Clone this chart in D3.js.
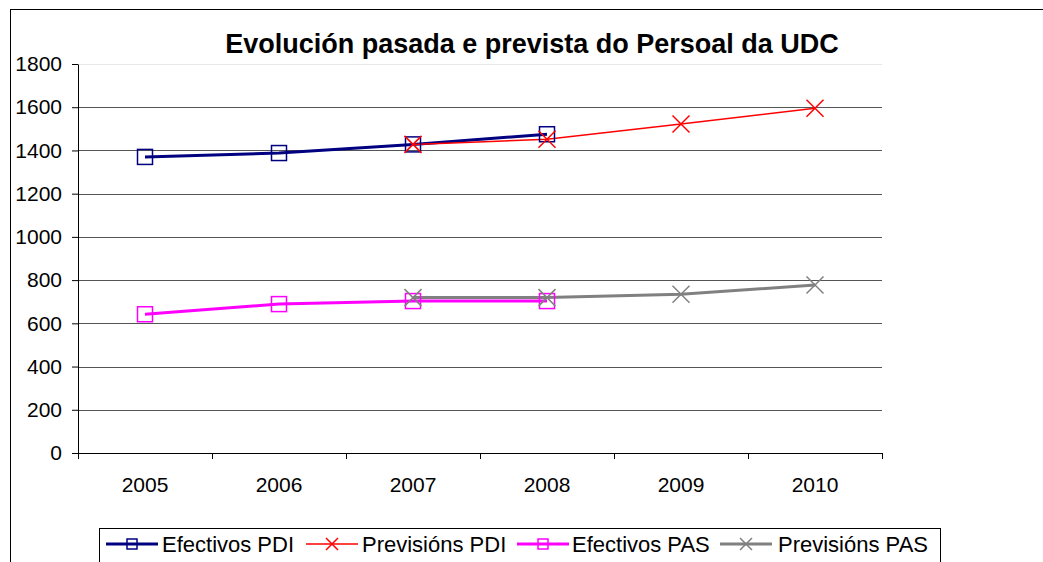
<!DOCTYPE html>
<html>
<head>
<meta charset="utf-8">
<script src="https://cdn.jsdelivr.net/npm/d3@7"></script>
<style>
  body { margin: 0; background: #fff; }
  svg { font-family: "Liberation Sans", Arial, sans-serif; display: block; }
</style>
</head>
<body>
<div id="chart"></div>
<script>
// data
var years = ["2005", "2006", "2007", "2008", "2009", "2010"];
var efectivosPDI = [1370, 1388, 1428, 1475, null, null];
var previsionsPDI = [null, null, 1428, 1452, 1522, 1595];
var efectivosPAS = [642, 689, 703, 703, null, null];
var previsionsPAS = [null, null, 719, 719, 735, 777];
var yTicks = [0, 200, 400, 600, 800, 1000, 1200, 1400, 1600, 1800];

var series = [
  {name: "Efectivos PDI", values: efectivosPDI, color: "#000080", width: 3, marker: "square"},
  {name: "Previsións PDI", values: previsionsPDI, color: "#ff0000", width: 1.5, marker: "x"},
  {name: "Efectivos PAS", values: efectivosPAS, color: "#ff00ff", width: 3, marker: "square"},
  {name: "Previsións PAS", values: previsionsPAS, color: "#808080", width: 3, marker: "x"}
];

var W = 1043, H = 562;
var margin = {top: 64, right: 161, bottom: 109, left: 78},
    width = W - margin.left - margin.right,
    height = H - margin.top - margin.bottom;

var svg = d3.select("#chart").append("svg")
    .attr("width", W).attr("height", H);

// outer chart frame (runs off the page on right / bottom)
svg.append("rect")
    .attr("x", 10.5).attr("y", 9.5)
    .attr("width", 1100).attr("height", 600)
    .attr("fill", "none").attr("stroke", "#000").attr("stroke-width", 1);

svg.append("text")
    .attr("x", 532).attr("y", 53)
    .attr("text-anchor", "middle")
    .style("font-size", "27px").style("font-weight", "bold")
    .text("Evolución pasada e prevista do Persoal da UDC");

var g = svg.append("g")
    .attr("transform", "translate(" + margin.left + "," + margin.top + ")");

var x = d3.scaleBand().domain(years).range([0, width]);
var y = d3.scaleLinear().domain([0, 1800]).range([height, 0]);

// gridlines
g.append("g").selectAll("line").data(yTicks).join("line")
    .attr("x1", 0).attr("x2", width)
    .attr("y1", function(d) { return Math.round(y(d)) + 0.5; })
    .attr("y2", function(d) { return Math.round(y(d)) + 0.5; })
    .attr("stroke", function(d) { return d == 1800 ? "#e8e8e8" : "#555"; })
    .attr("stroke-width", 1);

// Y axis
var yAxis = g.append("g")
    .call(d3.axisLeft(y).tickValues(yTicks).tickFormat(d3.format("d"))
      .tickSize(6).tickSizeOuter(0).tickPadding(10));
yAxis.select(".domain").attr("stroke", "#000");
yAxis.selectAll("text").style("font-size", "21px").attr("fill", "#000")
    .attr("font-family", "Liberation Sans, Arial, sans-serif");

// X axis, ticks on category boundaries
var xAxis = g.append("g").attr("transform", "translate(0," + height + ")");
xAxis.append("line").attr("x1", 0).attr("x2", width).attr("y1", 0.5).attr("y2", 0.5).attr("stroke", "#000");
var bounds = d3.range(years.length + 1).map(function(i) { return i * x.step(); });
xAxis.selectAll(".tk").data(bounds).join("line")
    .attr("x1", function(d) { return Math.round(d) + 0.5; })
    .attr("x2", function(d) { return Math.round(d) + 0.5; })
    .attr("y1", 0).attr("y2", 6).attr("stroke", "#000");
xAxis.selectAll(".lb").data(years).join("text")
    .attr("x", function(d) { return x(d) + x.bandwidth() / 2; })
    .attr("y", 39)
    .attr("text-anchor", "middle")
    .style("font-size", "21px")
    .text(function(d) { return d; });

var line = d3.line()
    .defined(function(d) { return d != null; })
    .x(function(d, i) { return x(years[i]) + x.bandwidth() / 2; })
    .y(function(d) { return y(d); });

function drawMarker(sel, type, color, cx, cy, s) {
  if (type == "square") {
    sel.append("rect").attr("x", cx - s / 2).attr("y", cy - s / 2)
      .attr("width", s).attr("height", s)
      .attr("fill", "none").attr("stroke", color).attr("stroke-width", 1.5);
  } else {
    var h = s / 2;
    sel.append("path")
      .attr("d", "M" + (cx - h) + "," + (cy - h) + "L" + (cx + h) + "," + (cy + h) +
                 "M" + (cx - h) + "," + (cy + h) + "L" + (cx + h) + "," + (cy - h))
      .attr("stroke", color).attr("stroke-width", 1.5).attr("fill", "none");
  }
}

series.forEach(function(s) {
  g.append("path").datum(s.values)
    .attr("fill", "none").attr("stroke", s.color)
    .attr("stroke-width", s.width).attr("d", line);
});
series.forEach(function(s) {
  var mg = g.append("g");
  s.values.forEach(function(v, i) {
    if (v == null) return;
    drawMarker(mg, s.marker, s.color, x(years[i]) + x.bandwidth() / 2, y(v), s.marker == "square" ? 15 : 17);
  });
});

// legend
var leg = svg.append("g");
leg.append("rect").attr("x", 99.5).attr("y", 528.5).attr("width", 841).attr("height", 40)
    .attr("fill", "#fff").attr("stroke", "#000");
var legLineX = [106, 306, 517, 720];
var legTextX = [162, 362, 572, 778];
series.forEach(function(s, i) {
  var lx = legLineX[i], ly = 544;
  leg.append("line").attr("x1", lx).attr("x2", lx + 52).attr("y1", ly).attr("y2", ly)
    .attr("stroke", s.color).attr("stroke-width", s.width);
  drawMarker(leg, s.marker, s.color, lx + 26, ly, s.marker == "square" ? 10 : 12);
  leg.append("text").attr("x", legTextX[i]).attr("y", 552)
    .style("font-size", "22px").text(s.name);
});
</script>
</body>
</html>
